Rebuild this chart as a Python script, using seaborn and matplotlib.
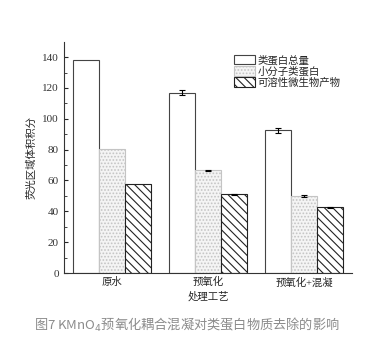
import matplotlib
matplotlib.use("Agg")
import matplotlib.pyplot as plt
import seaborn as sns
import pandas as pd
from matplotlib.patches import Patch

categories = ["原水", "预氧化", "预氧化+混凝"]
series = ["类蛋白总量", "小分子类蛋白", "可溶性微生物产物"]
total = [138.0, 117.0, 92.5]
small = [80.5, 66.5, 50.0]
smp = [57.5, 51.0, 42.5]
total_err = [0.0, 1.5, 1.5]
small_err = [0.0, 0.5, 0.5]
smp_err = [0.0, 0.5, 0.4]
yticks = [0, 20, 40, 60, 80, 100, 120, 140]

sns.set_style("ticks")
plt.rcParams["font.family"] = ["Liberation Serif", "Noto Sans CJK SC"]
plt.rcParams["hatch.linewidth"] = 0.8

rows = []
for vals, name in zip([total, small, smp], series):
    for c, v in zip(categories, vals):
        rows.append({"工艺": c, "值": v, "类别": name})
df = pd.DataFrame(rows)

fig = plt.figure(figsize=(3.87, 3.56), dpi=100)
ax = fig.add_axes([0.165, 0.233, 0.745, 0.650])

styles = [
    dict(facecolor="white", edgecolor="#444444", hatch=None),
    dict(facecolor="#f4f4f4", edgecolor="#c4c4c4", hatch="....."),
    dict(facecolor="white", edgecolor="#222222", hatch="\\\\\\\\"),
]

sns.barplot(data=df, x="工艺", y="值", hue="类别", hue_order=series,
            order=categories, errorbar=None, width=0.81, ax=ax,
            palette=["white", "#f4f4f4", "white"], legend=False,
            linewidth=0.8)

errs = [total_err, small_err, smp_err]
bar_containers = list(ax.containers)
for i, cont in enumerate(bar_containers):
    st = styles[i]
    for j, p in enumerate(cont.patches):
        p.set_facecolor(st["facecolor"])
        p.set_edgecolor(st["edgecolor"])
        p.set_linewidth(0.8)
        if st["hatch"]:
            p.set_hatch(st["hatch"])
        e = errs[i][j]
        if e > 0:
            cx = p.get_x() + p.get_width() / 2
            ax.errorbar(cx, p.get_height(), yerr=e, color="black",
                        capsize=2.5, elinewidth=0.8, capthick=0.8, fmt="none")

ax.set_ylim(0, 150)
ax.set_xlim(-0.5, 2.5)
ax.set_yticks(yticks)
ax.set_yticks(range(10, 150, 20), minor=True)
ax.tick_params(axis="both", direction="in", labelsize=8, width=0.8)
ax.tick_params(axis="y", which="major", length=3)
ax.tick_params(axis="y", which="minor", length=2, direction="in", width=0.6)
ax.tick_params(axis="x", length=3, labelsize=7.5, pad=3)
for lab in ax.get_yticklabels():
    lab.set_color("#333333")
sns.despine(ax=ax)
for s in ["left", "bottom"]:
    ax.spines[s].set_linewidth(0.8)
    ax.spines[s].set_color("#333333")

ax.set_ylabel("荧光区域体积积分", fontsize=7.5, labelpad=4)
ax.set_xlabel("处理工艺", fontsize=7.5, labelpad=3)

handles = [
    Patch(facecolor="white", edgecolor="#444444", linewidth=0.8, label=series[0]),
    Patch(facecolor="#f4f4f4", edgecolor="#c4c4c4", hatch=".....", linewidth=0.8, label=series[1]),
    Patch(facecolor="white", edgecolor="#222222", hatch="\\\\\\\\", linewidth=0.8, label=series[2]),
]
fig.legend(handles=handles, loc="upper left", bbox_to_anchor=(0.585, 0.866),
           frameon=False, fontsize=7.5, handlelength=2.0, handleheight=1.0,
           handletextpad=0.3, labelspacing=0.08, borderpad=0.2)

fig.text(0.088, 0.087, "图7 KMnO$_4$预氧化耦合混凝对类蛋白物质去除的影响",
         color="#8c8c8c", fontsize=9.5,
         family=["Noto Sans CJK SC", "DejaVu Sans"], ha="left", va="center")

fig.savefig("out.png", dpi=100)
